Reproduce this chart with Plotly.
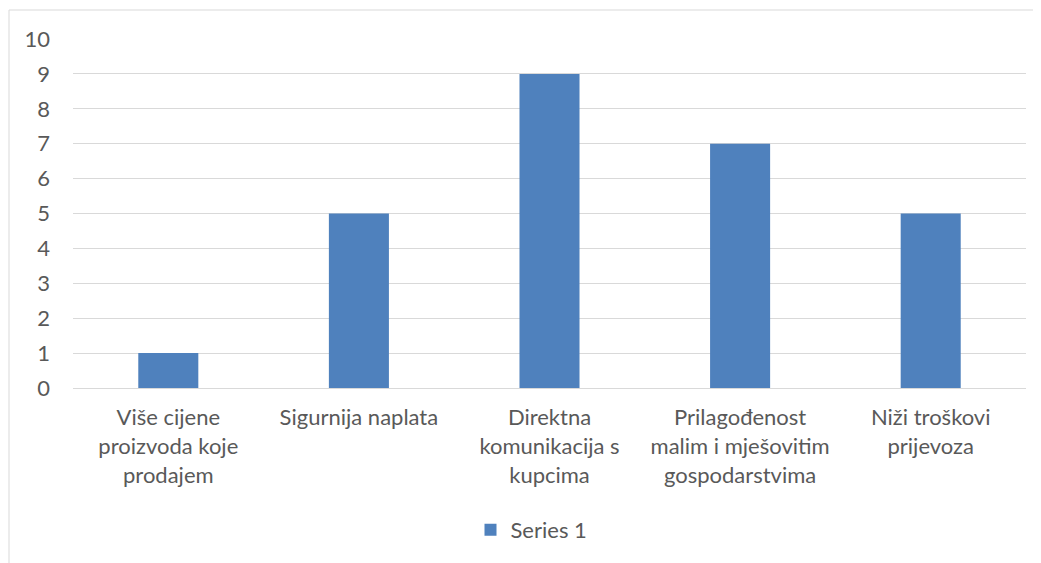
import plotly.graph_objects as go

categories = [
    "Više cijene<br>proizvoda koje<br>prodajem",
    "Sigurnija naplata",
    "Direktna<br>komunikacija s<br>kupcima",
    "Prilagođenost<br>malim i mješovitim<br>gospodarstvima",
    "Niži troškovi<br>prijevoza",
]
series_1 = [1, 5, 9, 7, 5]

# page body has an 8px margin, so the figure is sized/offset to compensate
W, H = 1033, 555
left, right, top, bottom = 65, 15, 31, 175
plot_w = W - left - right
plot_h = H - top - bottom

text_color = "#595959"
font = dict(family="Lato, Calibri, sans-serif", size=22, color=text_color)

fig = go.Figure()
fig.add_trace(
    go.Bar(
        x=categories,
        y=series_1,
        name="Series 1",
        marker=dict(color="#4F81BD", line=dict(width=0)),
    )
)

# chart frame (Excel style)
fig.add_shape(
    type="rect",
    xref="paper",
    yref="paper",
    x0=(1 - left) / plot_w,
    x1=(W + 20 - left) / plot_w,
    y0=-(H + 20 - top - plot_h) / plot_h,
    y1=(plot_h + top - 2) / plot_h,
    line=dict(color="#D9D9D9", width=1),
    layer="below",
)

fig.update_layout(
    width=W,
    height=H,
    margin=dict(l=left, r=right, t=top, b=bottom),
    plot_bgcolor="white",
    paper_bgcolor="white",
    font=font,
    bargap=0.685,
    showlegend=True,
    legend=dict(
        orientation="h",
        x=0.5 - 18 / plot_w,
        xanchor="center",
        y=-142 / plot_h,
        yanchor="middle",
        font=font,
        itemwidth=30,
    ),
    xaxis=dict(
        showgrid=False,
        showline=True,
        linecolor="#D9D9D9",
        linewidth=1,
        ticks="",
        tickangle=0,
        ticklabelstandoff=10,
    ),
    yaxis=dict(
        range=[0, 10],
        dtick=1,
        showgrid=True,
        gridcolor="#D9D9D9",
        gridwidth=1,
        zeroline=False,
        showline=False,
        ticks="",
        ticklabelstandoff=22,
    ),
)

fig.write_html("out.html")
